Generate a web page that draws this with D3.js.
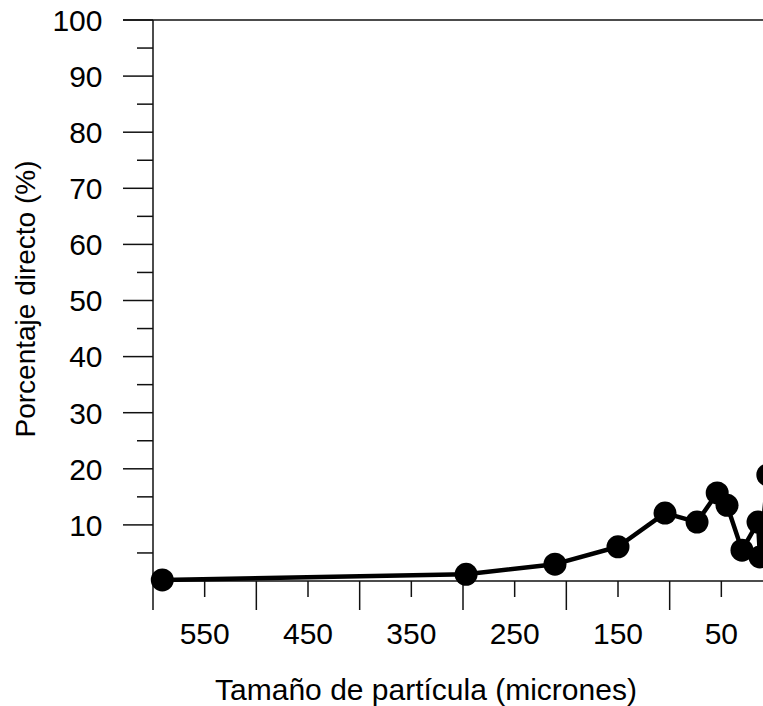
<!DOCTYPE html>
<html>
<head>
<meta charset="utf-8">
<script src="https://cdn.jsdelivr.net/npm/d3@7"></script>
<style>
  html, body { margin: 0; padding: 0; background: #fff; }
  svg { display: block; }
  text { font-family: "Liberation Sans", Arial, sans-serif; fill: #000; }
</style>
</head>
<body>
<svg id="chart" width="763" height="706"></svg>
<script>
// Data
const sizes = [591, 297, 211, 150, 104.5, 73.5, 54, 44.5, 30, 14.5, 12.6, 5];
const percents = [0.2, 1.2, 3.0, 6.1, 12.1, 10.5, 15.7, 13.5, 5.5, 10.5, 4.3, 18.9];
const xMajorTicks = [600, 500, 400, 300, 200, 100, 0];
const xLabelTicks = [550, 450, 350, 250, 150, 50];
const yMajorTicks = [10, 20, 30, 40, 50, 60, 70, 80, 90, 100];
const yMinorTicks = [5, 15, 25, 35, 45, 55, 65, 75, 85, 95];
const xTitle = "Tamaño de partícula (micrones)";
const yTitle = "Porcentaje directo (%)";

const svg = d3.select("#chart");
const x = d3.scaleLinear().domain([600, 0]).range([153, 773]);
const y = d3.scaleLinear().domain([0, 100]).range([581, 20]);
const fs = 30;

// top frame line
svg.append("line").attr("x1", 123).attr("x2", 763).attr("y1", y(100)).attr("y2", y(100))
  .attr("stroke", "#111").attr("stroke-width", 1.5);

// y axis
const yAxis = svg.append("g").attr("transform", `translate(${x(600)},0)`);
yAxis.append("line").attr("x1", 0).attr("x2", 0).attr("y1", y(100)).attr("y2", y(0))
  .attr("stroke", "#111").attr("stroke-width", 1.5);
yAxis.selectAll("line.maj").data(yMajorTicks).join("line").attr("class", "maj")
  .attr("x1", -30).attr("x2", 0).attr("y1", d => y(d)).attr("y2", d => y(d))
  .attr("stroke", "#111").attr("stroke-width", 1.5);
yAxis.selectAll("line.min").data(yMinorTicks).join("line").attr("class", "min")
  .attr("x1", -16).attr("x2", 0).attr("y1", d => y(d)).attr("y2", d => y(d))
  .attr("stroke", "#111").attr("stroke-width", 1.5);
yAxis.selectAll("text").data(yMajorTicks).join("text")
  .attr("x", -50.5).attr("y", d => y(d)).attr("dy", "0.36em")
  .attr("text-anchor", "end").attr("font-size", fs).text(d => d);

// x axis
const xAxis = svg.append("g").attr("transform", `translate(0,${y(0)})`);
xAxis.append("line").attr("x1", x(600)).attr("x2", 763).attr("y1", 0).attr("y2", 0)
  .attr("stroke", "#111").attr("stroke-width", 1.5);
xAxis.selectAll("line.maj").data(xMajorTicks).join("line").attr("class", "maj")
  .attr("x1", d => x(d)).attr("x2", d => x(d)).attr("y1", 0).attr("y2", 29)
  .attr("stroke", "#111").attr("stroke-width", 1.5);
xAxis.selectAll("line.min").data(xLabelTicks).join("line").attr("class", "min")
  .attr("x1", d => x(d)).attr("x2", d => x(d)).attr("y1", 0).attr("y2", 16)
  .attr("stroke", "#111").attr("stroke-width", 1.5);
xAxis.selectAll("text").data(xLabelTicks).join("text")
  .attr("x", d => x(d)).attr("y", 63)
  .attr("text-anchor", "middle").attr("font-size", fs).text(d => d);

// titles
svg.append("text").attr("x", 426).attr("y", 700).attr("text-anchor", "middle")
  .attr("font-size", fs).text(xTitle);
svg.append("text").attr("transform", `translate(35,299) rotate(-90)`)
  .attr("text-anchor", "middle").attr("font-size", 28).text(yTitle);

// series
const pts = sizes.map((s, i) => [s, percents[i]]);
svg.append("path").datum(pts)
  .attr("d", d3.line().x(d => x(d[0])).y(d => y(d[1])))
  .attr("fill", "none").attr("stroke", "#000").attr("stroke-width", 4.5)
  .attr("stroke-linejoin", "round");
svg.selectAll("circle").data(pts).join("circle")
  .attr("cx", d => x(d[0])).attr("cy", d => y(d[1])).attr("r", 11.5)
  .attr("fill", "#000");
</script>
</body>
</html>
